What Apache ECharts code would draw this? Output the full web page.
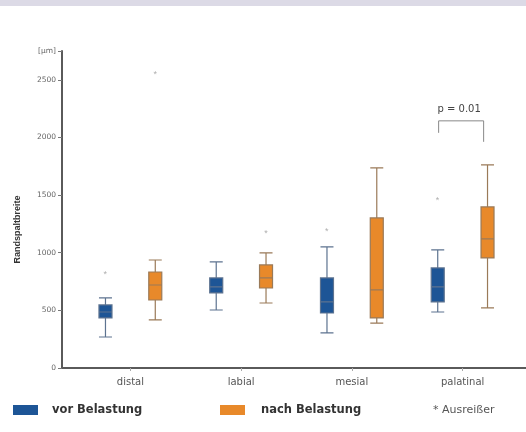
<!DOCTYPE html>
<html><head><meta charset="utf-8">
<script src="https://cdn.jsdelivr.net/npm/echarts@6/dist/echarts.min.js"></script>
<style>html,body{margin:0;padding:0;background:#fff}#c{width:526px;height:432px}</style>
</head><body><div id="c"></div>
<script>
var categories = ['distal', 'labial', 'mesial', 'palatinal'];
// [min, Q1, median, Q3, max]
var vorBelastung = [[269, 434, 486, 547, 608], [503, 651, 703, 781, 920], [304, 477, 573, 781, 1050], [486, 573, 703, 868, 1024]];
var nachBelastung = [[417, 590, 720, 833, 937], [564, 694, 781, 894, 998], [390, 434, 677, 1302, 1736], [521, 955, 1120, 1397, 1762]];
var vorOutliers = [['distal', 825], ['mesial', 1200], ['palatinal', 1467]];
var nachOutliers = [['distal', 2560], ['labial', 1180]];
var yTicks = [0, 500, 1000, 1500, 2000, 2500, 2750];
var yUnit = '[µm]';
var sigCategory = 'palatinal';
var sigText = 'p = 0.01';
var sigLevels = [2040, 2144, 1962]; // left end, top, right end

var BLUE = '#1d5596', ORANGE = '#e8892a';
var FONT = 'DejaVu Sans';
var Y_OFFSET = 13;
var chart = echarts.init(document.getElementById('c'));
var outlierLabel = function (dx) {
  return { show: true, formatter: '*', position: 'inside', offset: [dx, 2], fontSize: 9, color: '#9a9a9a' };
};
chart.setOption({
  animation: false,
  grid: { left: 75, right: 8, top: 51, bottom: 64 },
  xAxis: {
    type: 'category', data: categories,
    axisLine: { lineStyle: { color: '#5a5a5a', width: 2 } },
    axisTick: { show: true, alignWithLabel: true, length: 3, lineStyle: { color: '#aaa' } },
    axisLabel: { color: '#555', fontSize: 10, margin: 9, fontFamily: FONT },
    splitLine: { show: false }
  },
  yAxis: {
    type: 'value', min: 0, max: 2750, offset: Y_OFFSET,
    axisLine: { show: true, lineStyle: { color: '#5a5a5a', width: 2 } },
    axisTick: { show: true, length: 4, customValues: yTicks, lineStyle: { color: '#777' } },
    axisLabel: {
      customValues: yTicks, color: '#666', fontSize: 7.5, fontFamily: FONT, margin: 6,
      formatter: function (v) { return v === 2750 ? yUnit : String(v); }
    },
    splitLine: { show: false },
    name: 'Randspaltbreite', nameLocation: 'middle', nameGap: 40, nameRotate: 90,
    nameTextStyle: { fontSize: 9, fontWeight: 'bold', color: '#333', fontFamily: 'Liberation Sans', padding: [0, 40, 0, 0] }
  },
  legend: [
    { data: [{ name: 'vor Belastung', icon: 'rect', itemStyle: { color: BLUE, borderWidth: 0 } }], left: 8, bottom: 11, itemWidth: 25, itemHeight: 10,
      textStyle: { fontSize: 11.5, fontWeight: 'bold', color: '#333', padding: [0, 0, 0, 9], fontFamily: FONT } },
    { data: [{ name: 'nach Belastung', icon: 'rect', itemStyle: { color: ORANGE, borderWidth: 0 } }], left: 215, bottom: 11, itemWidth: 25, itemHeight: 10,
      textStyle: { fontSize: 11.5, fontWeight: 'bold', color: '#333', padding: [0, 0, 0, 11], fontFamily: FONT } },
    { data: [{ name: '* Ausreißer', icon: 'none' }], left: 398, bottom: 11, itemWidth: 25, itemHeight: 10,
      textStyle: { fontSize: 11, color: '#555', fontFamily: FONT } }
  ],
  series: [
    { name: 'vor Belastung', type: 'boxplot', data: vorBelastung, boxWidth: [13, 13],
      itemStyle: { color: BLUE, borderColor: '#5d7390', borderWidth: 1.2 } },
    { name: 'nach Belastung', type: 'boxplot', data: nachBelastung, boxWidth: [13, 13],
      itemStyle: { color: ORANGE, borderColor: '#9a7a58', borderWidth: 1.2 } },
    { name: '* Ausreißer', type: 'scatter', data: vorOutliers, symbolSize: 1,
      itemStyle: { color: 'rgba(0,0,0,0)' }, label: outlierLabel(-25) },
    { name: '* Ausreißer', type: 'scatter', data: nachOutliers, symbolSize: 1,
      itemStyle: { color: 'rgba(0,0,0,0)' }, label: outlierLabel(25) }
  ]
});

function drawExtras() {
  var idx = categories.indexOf(sigCategory);
  var c = chart.convertToPixel({ gridIndex: 0 }, [idx, 0]);
  var xl = c[0] - 24, xr = c[0] + 21;
  var yL = chart.convertToPixel({ gridIndex: 0 }, [idx, sigLevels[0]])[1];
  var yT = chart.convertToPixel({ gridIndex: 0 }, [idx, sigLevels[1]])[1];
  var yR = chart.convertToPixel({ gridIndex: 0 }, [idx, sigLevels[2]])[1];
  var rect = chart.getModel().getComponent('grid', 0).coordinateSystem.getRect();
  chart.setOption({
    graphic: [
      { type: 'rect', shape: { x: 0, y: 0, width: 526, height: 6 }, style: { fill: '#dcdae6' }, silent: true },
      { type: 'polyline', shape: { points: [[xl, yL], [xl, yT], [xr, yT], [xr, yR]] },
        style: { stroke: '#888', lineWidth: 1, fill: null } },
      { type: 'text', x: (xl + xr) / 2 - 2, y: yT - 6,
        style: { text: sigText, fontSize: 10, fill: '#444', align: 'center', verticalAlign: 'bottom', fontFamily: FONT } },
      { type: 'line', shape: { x1: rect.x - Y_OFFSET - 1, y1: c[1], x2: rect.x + 1, y2: c[1] },
        style: { stroke: '#5a5a5a', lineWidth: 2 } },
      { type: 'line', shape: { x1: rect.x + rect.width - 1, y1: c[1], x2: 526, y2: c[1] },
        style: { stroke: '#5a5a5a', lineWidth: 2 } }
    ]
  });
}
drawExtras();
</script></body></html>
